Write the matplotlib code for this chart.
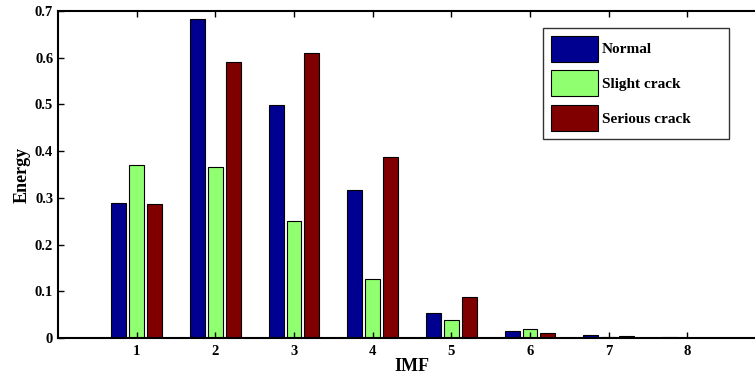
import numpy as np
import matplotlib.pyplot as plt

imf = [1, 2, 3, 4, 5, 6, 7, 8]
normal = [0.289, 0.683, 0.499, 0.316, 0.053, 0.014, 0.006, 0.002]
slight = [0.370, 0.365, 0.251, 0.126, 0.038, 0.019, 0.003, 0.001]
serious = [0.287, 0.591, 0.610, 0.387, 0.087, 0.010, 0.004, 0.001]

plt.rcParams['font.family'] = 'Liberation Serif'
plt.rcParams['font.weight'] = 'bold'

fig = plt.figure(figsize=(7.55, 3.8), dpi=100)
# axes run past the right edge of the picture, as in the reference
ax = fig.add_axes([58 / 755, 1 - 338 / 380, 708 / 755, 327 / 380])

x = np.array(imf)
w = 0.19
off = 0.225
ax.bar(x - off, normal, w, color='#000090', edgecolor='black', linewidth=0.8, label='Normal')
ax.bar(x, slight, w, color='#90ff70', edgecolor='black', linewidth=0.8, label='Slight crack')
ax.bar(x + off, serious, w, color='#800000', edgecolor='black', linewidth=0.8, label='Serious crack')

ax.set_xlim(0, 9)
ax.set_ylim(0, 0.7)
ax.set_xticks(imf)
ax.set_yticks(np.arange(0, 0.71, 0.1))
ax.set_yticklabels(['0', '0.1', '0.2', '0.3', '0.4', '0.5', '0.6', '0.7'])
ax.tick_params(direction='in', length=4, width=1, top=True, right=True,
               labelsize=10.5)
ax.tick_params(axis='x', pad=5)
ax.tick_params(axis='y', pad=3.5)
for s in ax.spines.values():
    s.set_linewidth(1.5)

ax.set_xlabel('IMF', fontsize=13, fontweight='bold', labelpad=0)
ax.set_ylabel('Energy', fontsize=13, fontweight='bold', labelpad=3)

leg = ax.legend(loc='upper left',
                bbox_to_anchor=(543 / 755, 1 - 140 / 380, 186 / 755, 112 / 380),
                bbox_transform=fig.transFigure, mode='expand',
                fancybox=False, frameon=True,
                edgecolor='black', fontsize=11, handlelength=3.07, handleheight=2.24,
                labelspacing=0.57, borderpad=0.5, handletextpad=0.3,
                borderaxespad=0)
leg.get_frame().set_linewidth(1.0)
plt.setp(leg.get_texts(), fontweight='bold')

fig.savefig('out.png', dpi=100)
